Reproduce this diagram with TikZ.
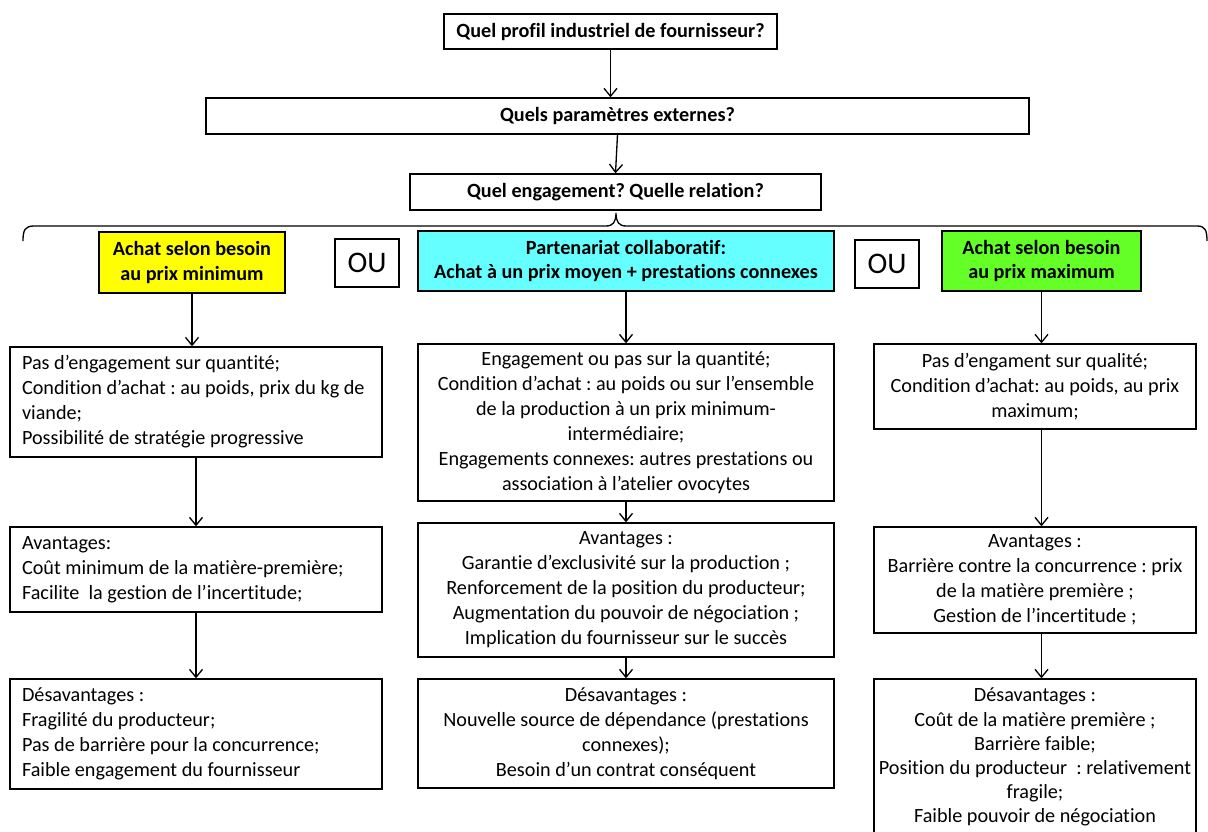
\documentclass[tikz,border=0pt]{standalone}
\usepackage{fontspec}
\setmainfont[RawFeature={-liga;-clig;-calt;-dlig}]{Carlito}
\usepackage{tikz}
\usetikzlibrary{arrows.meta,positioning}
\frenchspacing

\definecolor{besoinmin}{RGB}{255,255,0}
\definecolor{partenaire}{RGB}{102,255,255}
\definecolor{besoinmax}{RGB}{99,255,38}

\begin{document}
\begin{tikzpicture}[
  x=0.02cm, y=-0.02cm,
  box/.style={rectangle, draw, line width=0.75pt, fill=#1, inner sep=0pt,
              font=\fontsize{11.5}{14.2}\selectfont, align=flush center},
  box/.default=white,
  head/.style={box=#1, font=\bfseries\fontsize{11.5}{14.2}\selectfont},
  head/.default=white,
  oubox/.style={box, minimum width=1.28cm, minimum height=0.96cm,
                font=\fontsize{17}{20}\selectfont},
  leftbox/.style={box, minimum width=7.44cm, text width=6.96cm, align=flush left},
  midbox/.style={box, minimum width=8.32cm, text width=8.3cm},
  rightbox/.style={box, minimum width=6.44cm, text width=6.44cm},
  arrow/.style={-{Straight Barb[length=1.6mm, width=2.6mm]}, line width=0.75pt}
]
  \useasboundingbox (0,0) rectangle (1208,832);
  \clip (0,0) rectangle (1208,832);

  % questions
  \node[head, minimum width=6.66cm, minimum height=0.70cm] (profil) at (610.5,31.5) {Quel profil industriel de fournisseur?};
  \node[head, minimum width=16.46cm, minimum height=0.72cm] (param) at (617.5,116) {Quels paramètres externes?};
  \node[head, minimum width=8.22cm, minimum height=0.72cm] (engag) at (615.5,192) {Quel engagement? Quelle relation?};

  % accolade
  \draw[line width=0.75pt] (23,241) .. controls (23,230) and (25,226) .. (34,226) -- (606,226)
    .. controls (613,226) and (616,222) .. (616,213) .. controls (616,222) and (619,226) .. (626,226)
    -- (1197,226) .. controls (1205,226) and (1207,230) .. (1207,241);

  % choix
  \node[head=besoinmin, minimum width=3.72cm, minimum height=1.22cm] (prixmin) at (192,262.5) {Achat selon besoin\\au prix minimum};
  \node[oubox] (ou1) at (367,263) {OU};
  \node[head=partenaire, minimum width=8.32cm, minimum height=1.2cm] (collab) at (626,261) {Partenariat collaboratif:\\Achat à un prix moyen + prestations connexes};
  \node[oubox] (ou2) at (887,264) {OU};
  \node[head=besoinmax, minimum width=3.98cm, minimum height=1.2cm] (prixmax) at (1041.5,261) {Achat selon besoin\\au prix maximum};

  % prix minimum
  \node[leftbox, minimum height=2.2cm] (minCond) at (196,402) {Pas d’engagement sur quantité;\\Condition d’achat : au poids, prix du kg de\\viande;\\Possibilité de stratégie progressive};
  \node[leftbox, minimum height=1.7cm] (minAv) at (196,569.5) {Avantages:\\Coût minimum de la matière-première;\\Facilite~~la gestion de l’incertitude;};
  \node[leftbox, minimum height=2.2cm] (minDes) at (196,734) {Désavantages :\\Fragilité du producteur;\\Pas de barrière pour la concurrence;\\Faible engagement du fournisseur};

  % partenariat
  \node[midbox, minimum height=3.14cm] (partCond) at (626,422.5) {Engagement ou pas sur la quantité;\\Condition d’achat : au poids ou sur l’ensemble\\de la production à un prix minimum-\\intermédiaire;\\Engagements connexes: autres prestations ou\\association à l’atelier ovocytes};
  \node[midbox, minimum height=2.68cm] (partAv) at (626,590) {Avantages :\\Garantie d’exclusivité sur la production ;\\Renforcement de la position du producteur;\\Augmentation du pouvoir de négociation ;\\Implication du fournisseur sur le succès};
  \node[midbox, minimum height=2.18cm] (partDes) at (626,733.5) {Désavantages :\\Nouvelle source de dépendance (prestations\\connexes);\\Besoin d’un contrat conséquent};

  % prix maximum
  \node[rightbox, minimum height=1.7cm] (maxCond) at (1035,386.5) {Pas d’engament sur qualité;\\Condition d’achat: au poids, au prix\\maximum;};
  \node[rightbox, minimum height=2.12cm] (maxAv) at (1035,580) {Avantages :\\Barrière contre la concurrence : prix\\de la matière première ;\\Gestion de l’incertitude ;};
  \node[rightbox, minimum height=3.12cm, font=\fontsize{11.5}{13.7}\selectfont] (maxDes) at (1035,757) {Désavantages :\\Coût de la matière première ;\\Barrière faible;\\Position du producteur~~: relativement\\fragile;\\Faible pouvoir de négociation};

  \draw[arrow] (profil.south) -- (profil.south |- param.north);
  \draw[arrow] (param.south) -- (engag.north);

  \draw[arrow] (prixmin.south) -- (prixmin.south |- minCond.north);
  \draw[arrow] (minCond) -- (minAv);
  \draw[arrow] (minAv) -- (minDes);

  \draw[arrow] (collab) -- (partCond);
  \draw[arrow] (partCond) -- (partAv);
  \draw[arrow] (partAv) -- (partDes);

  \draw[arrow] (prixmax.south) -- (prixmax.south |- maxCond.north);
  \draw[arrow] (maxCond.south -| prixmax.south) -- (maxAv.north -| prixmax.south);
  \draw[arrow] (maxAv.south -| prixmax.south) -- (maxDes.north -| prixmax.south);
\end{tikzpicture}
\end{document}
